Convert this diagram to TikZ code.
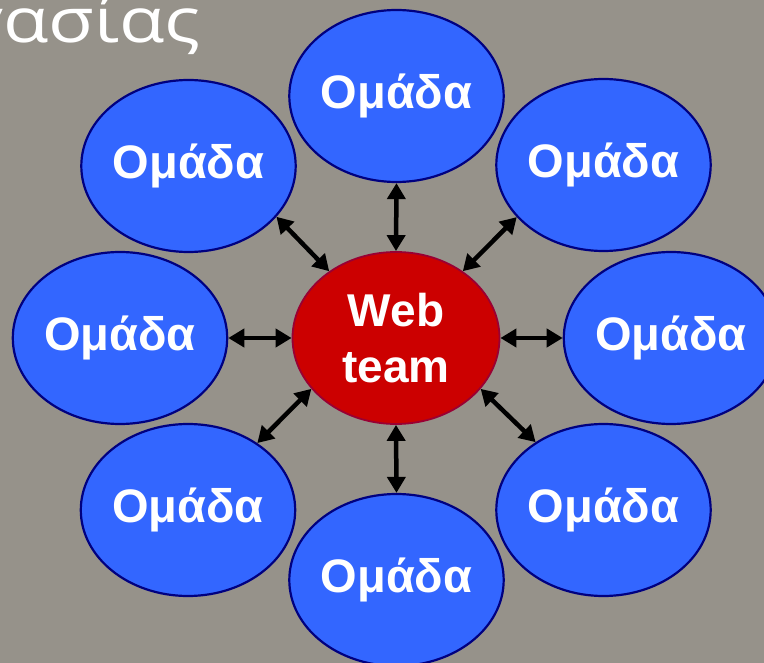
\documentclass[tikz,border=0pt]{standalone}
\usepackage{fontspec}
\setmainfont{Liberation Sans}
\newfontfamily\titlefont[FakeStretch=1.2]{Open Sans}
\usetikzlibrary{shapes.geometric,arrows.meta}
\definecolor{bggray}{RGB}{150,146,138}
\definecolor{teamblue}{RGB}{51,102,255}
\definecolor{teamnavy}{RGB}{0,0,128}
\definecolor{webred}{RGB}{204,0,0}
\definecolor{webborder}{RGB}{153,0,51}
\tikzset{
  teambox/.style={ellipse, draw=teamnavy, line width=2.2pt, fill=teamblue,
    minimum width=207pt, minimum height=172pt, inner sep=0pt,
    text=white, font=\fontsize{47}{56}\selectfont\bfseries},
  webbox/.style={ellipse, draw=webborder, line width=1.8pt, fill=webred,
    minimum width=207pt, minimum height=172pt, inner sep=0pt,
    text=white, align=center, font=\fontsize{46}{56}\selectfont\bfseries},
  link/.style={line width=4.5pt, black, {Triangle[length=16pt,width=18pt]}-{Triangle[length=16pt,width=18pt]}}
}
\begin{document}
\begin{tikzpicture}[x=1pt,y=-1pt]
\useasboundingbox (0,0) rectangle (764,663);
\clip (0,0) rectangle (764,663);
\fill[bggray] (0,0) rectangle (764,663);
\node[anchor=base east, text=white, inner sep=0pt, font=\titlefont\fontsize{62}{62}\selectfont] (title) at (201,43) {γασίας};
\node[webbox] (c) at (396,338) {Web\\team};
\node[teambox] (t) at (396.5,96) {Ομάδα};
\node[teambox] (tl) at (188.5,166) {Ομάδα};
\node[teambox] (tr) at (603.5,165) {Ομάδα};
\node[teambox] (l) at (120,338) {Ομάδα};
\node[teambox] (r) at (671,338) {Ομάδα};
\node[teambox] (bl) at (188,510) {Ομάδα};
\node[teambox] (br) at (603.5,510) {Ομάδα};
\node[teambox] (b) at (396.5,580) {Ομάδα};
\draw[link] (t.south) -- (c.north);
\draw[link] (c.south) -- (b.north);
\draw[link] (l.east) -- (c.west);
\draw[link] (c.east) -- (r.west);
\draw[link] (tl.-30.7) -- (c.135.4);
\draw[link] (tr.211.2) -- (c.45.4);
\draw[link] (c.-31.8) -- (br.135.6);
\draw[link] (c.211.8) -- (bl.44.6);
\end{tikzpicture}
\end{document}
